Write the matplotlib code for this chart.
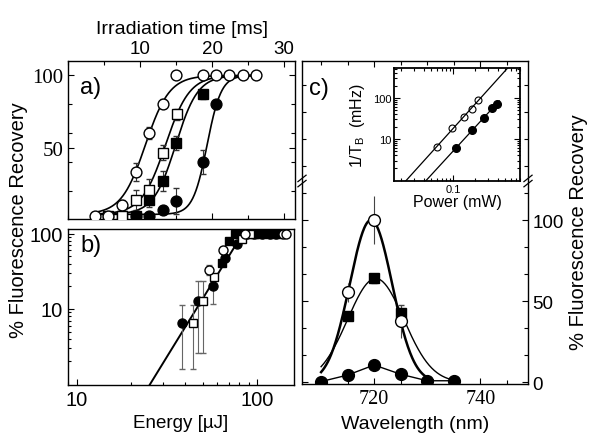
import numpy as np
import matplotlib
matplotlib.use("Agg")
import matplotlib.pyplot as plt
from matplotlib.ticker import MultipleLocator, FixedLocator, NullFormatter, LogLocator

plt.rcParams['font.family'] = ['Liberation Sans', 'DejaVu Sans']
plt.rcParams['mathtext.fontset'] = 'custom'
plt.rcParams['mathtext.rm'] = 'Liberation Sans'
plt.rcParams['axes.linewidth'] = 1.0

# ---- panel a: recovery vs irradiation time (ms) ----
a_t_oc = [3.75, 5.6, 7.45, 9.45, 11.3, 13.15, 15.0, 18.8, 20.6, 22.4, 24.3, 26.1]
a_v_oc = [2.5, 2.5, 10, 33, 60, 80.5, 100, 100, 100, 100, 100, 100]
a_e_oc = [0, 0, 4, 6, 4, 3, 0, 0, 0, 0, 0, 0]
a_t_os = [5.6, 7.45, 9.45, 11.3, 13.15, 15.1]
a_v_os = [2.5, 2.5, 13.7, 20.4, 46.5, 73]
a_e_os = [0, 0, 7, 8, 5, 4]
a_t_fs = [7.45, 9.45, 11.3, 13.15, 15.0, 18.8]
a_v_fs = [2.5, 2.5, 13.7, 26.9, 53, 87]
a_e_fs = [0, 0, 5, 7, 5, 3]
a_t_fc = [9.45, 11.3, 13.15, 15.0, 18.8, 20.6]
a_v_fc = [2.5, 2.5, 6.7, 13, 40, 80]
a_e_fc = [0, 0, 3, 9, 8, 3]
# sigmoid fits (midpoint, width) for the four series
a_fit_t0 = [10.74, 13.53, 14.94, 19.3]
a_fit_w = [1.67, 1.67, 1.54, 0.98]
a_fit_base = 3.7

# ---- panel b: recovery vs energy (uJ) ----
b_E_fc = [38.3, 47.4, 57.4, 66.7, 77.4, 88, 97, 107, 118, 128]
b_F_fc = [6.4, 12.9, 19.9, 47.4, 73.6, 100, 100, 100, 100, 100]
b_lo_fc = [1.6, 2.6, 11.5, 47.4, 73.6, 100, 100, 100, 100, 100]
b_hi_fc = [11.3, 23.4, 26, 47.4, 73.6, 100, 100, 100, 100, 100]
b_E_os = [44, 50.5, 58, 82.6, 92]
b_F_os = [6.4, 12.9, 26.3, 85.8, 100]
b_lo_os = [1.6, 2.6, 26.3, 85.8, 100]
b_hi_os = [11.3, 23.4, 26.3, 85.8, 100]
b_E_oc = [54.6, 65.2, 86, 139, 146]
b_F_oc = [33, 60, 100, 100, 100]
b_lo_oc = [28, 60, 100, 100, 100]
b_hi_oc = [38, 60, 100, 100, 100]
b_E_fs = [64, 70.5, 76, 80, 84, 96, 103, 112, 121, 132]
b_F_fs = [40.6, 81.5, 100, 100, 100, 100, 100, 100, 100, 100]
b_fit_E0 = 25.6
b_fit_n = 3.9

# ---- panel c: recovery vs wavelength (nm) ----
c_wl_fc = [710, 715, 720, 725, 730, 735]
c_v_fc = [0.5, 4.5, 10.7, 5, 1, 1]
c_wl_oc = [715, 720, 725]
c_v_oc = [55.4, 100, 37.6]
c_e_oc = [6, 15, 10]
c_wl_fs = [715, 720, 725]
c_v_fs = [41, 64, 42.7]
c_e_fs = [2, 3, 5]
# gaussian fits (amplitude, centre, sigma, start, end)
c_fit_oc = [100, 719.4, 4.0, 710, 731]
c_fit_fs = [64, 720.3, 5.3, 710, 735]

# ---- inset: 1/T_B vs power ----
in_p_oc = [0.061, 0.097, 0.141, 0.18, 0.216]
in_r_oc = [6.5, 18.3, 35, 55, 88]
in_p_fc = [0.11, 0.18, 0.26, 0.34, 0.39]
in_r_fc = [6.0, 16.4, 33.5, 57.7, 71]

W, H = 590, 439
fig = plt.figure(figsize=(5.9, 4.39), dpi=100)


def box(l, t, r, b):
    return [l / W, 1 - b / H, (r - l) / W, (b - t) / H]


tick_kw = dict(direction='in', which='both', width=0.8)

# panel a
ax_a = fig.add_axes(box(68, 62, 295, 220))
tt = np.linspace(3.4, 26, 300)
for t0, w in zip(a_fit_t0, a_fit_w):
    ax_a.plot(tt, a_fit_base + (100 - a_fit_base) / (1 + np.exp(-(tt - t0) / w)), color='black', lw=1.2, zorder=2)
ek = dict(fmt='none', ecolor='#333333', elinewidth=0.8, capsize=2, zorder=3)
ax_a.errorbar(a_t_oc, a_v_oc, yerr=a_e_oc, **ek)
ax_a.errorbar(a_t_os, a_v_os, yerr=a_e_os, **ek)
ax_a.errorbar(a_t_fs, a_v_fs, yerr=a_e_fs, **ek)
ax_a.errorbar(a_t_fc, a_v_fc, yerr=a_e_fc, **ek)
ax_a.plot(a_t_fc, a_v_fc, 'o', ms=7.8, mfc='black', mec='black', ls='none', zorder=4)
ax_a.plot(a_t_fs, a_v_fs, 's', ms=7, mfc='black', mec='black', ls='none', zorder=4)
ax_a.plot(a_t_os, a_v_os, 's', ms=7, mfc='white', mec='black', mew=1, ls='none', zorder=5)
ax_a.plot(a_t_oc, a_v_oc, 'o', ms=7.8, mfc='white', mec='black', mew=1, ls='none', zorder=5)
ax_a.set_xlim(0, 31.5)
ax_a.set_ylim(0.5, 110)
ax_a.xaxis.set_major_locator(FixedLocator([10, 20, 30]))
ax_a.xaxis.set_minor_locator(MultipleLocator(5))
ax_a.yaxis.set_major_locator(FixedLocator([50, 100]))
ax_a.yaxis.set_minor_locator(FixedLocator([20, 40, 60, 80]))
ax_a.tick_params(top=True, bottom=True, left=True, right=True, labeltop=True, labelbottom=False, **tick_kw)
ax_a.tick_params(which='major', length=4)
ax_a.tick_params(which='minor', length=3)
ax_a.tick_params(axis='x', labelsize=13.5, pad=3)
for lab in ax_a.get_yticklabels():
    lab.set_family('Liberation Serif')
    lab.set_fontsize(15)
ax_a.set_xlabel('Irradiation time [ms]', fontsize=14, labelpad=5)
ax_a.xaxis.set_label_position('top')

# panel b
ax_b = fig.add_axes(box(68, 230, 294, 386))
ax_b.set_xscale('log')
ax_b.set_yscale('log')
ee = np.linspace(24, b_fit_E0 * 100 ** (1 / b_fit_n), 100)
ax_b.plot(ee, (ee / b_fit_E0) ** b_fit_n, color='black', lw=1.4, zorder=2)
ek_b = dict(fmt='none', ecolor='#666666', elinewidth=0.8, capsize=2.5, zorder=3)
for E, F, lo, hi in [(b_E_fc, b_F_fc, b_lo_fc, b_hi_fc), (b_E_os, b_F_os, b_lo_os, b_hi_os),
                     (b_E_oc, b_F_oc, b_lo_oc, b_hi_oc)]:
    F = np.array(F)
    ax_b.errorbar(E, F, yerr=[F - np.array(lo), np.array(hi) - F], **ek_b)
ax_b.plot(b_E_fc, b_F_fc, 'o', ms=6.5, mfc='black', mec='black', ls='none', zorder=4)
ax_b.plot(b_E_fs, b_F_fs, 's', ms=6, mfc='black', mec='black', ls='none', zorder=4)
ax_b.plot(b_E_os, b_F_os, 's', ms=6, mfc='white', mec='black', mew=1, ls='none', zorder=5)
ax_b.plot(b_E_oc, b_F_oc, 'o', ms=6.5, mfc='white', mec='black', mew=1, ls='none', zorder=5)
ax_b.set_xlim(8.95, 161)
ax_b.set_ylim(0.97, 116)
ax_b.xaxis.set_major_locator(FixedLocator([10, 100]))
ax_b.xaxis.set_major_formatter(matplotlib.ticker.FixedFormatter(['10', '100']))
ax_b.xaxis.set_minor_locator(LogLocator(subs=np.arange(2, 10)))
ax_b.xaxis.set_minor_formatter(NullFormatter())
ax_b.yaxis.set_major_locator(FixedLocator([10, 100]))
ax_b.yaxis.set_major_formatter(matplotlib.ticker.FixedFormatter(['10', '100']))
ax_b.yaxis.set_minor_locator(LogLocator(subs=np.arange(2, 10)))
ax_b.yaxis.set_minor_formatter(NullFormatter())
ax_b.tick_params(top=False, right=False, labelsize=14.5, **tick_kw)
ax_b.tick_params(which='major', length=4)
ax_b.tick_params(which='minor', length=2.5)
ax_b.set_xlabel('Energy [µJ]', fontsize=13.5, labelpad=4)

# panel c
ax_c = fig.add_axes(box(302, 62, 528, 385))
wl = np.linspace(c_fit_fs[3], c_fit_fs[4], 200)
ax_c.plot(wl, c_fit_fs[0] * np.exp(-(wl - c_fit_fs[1]) ** 2 / (2 * c_fit_fs[2] ** 2)), color='black', lw=1.0, zorder=2)
wl = np.linspace(c_fit_oc[3], c_fit_oc[4], 200)
ax_c.plot(wl, c_fit_oc[0] * np.exp(-(wl - c_fit_oc[1]) ** 2 / (2 * c_fit_oc[2] ** 2)), color='black', lw=1.8, zorder=2)
ax_c.plot(c_wl_fc, c_v_fc, '-', color='black', lw=1.0, zorder=2)
ax_c.errorbar(c_wl_oc, c_v_oc, yerr=c_e_oc, fmt='none', ecolor='#444444', elinewidth=0.8, capsize=0, zorder=3)
ax_c.errorbar(c_wl_fs, c_v_fs, yerr=c_e_fs, fmt='none', ecolor='#444444', elinewidth=0.8, capsize=2, zorder=3)
ax_c.plot(c_wl_fc, c_v_fc, 'o', ms=8.5, mfc='black', mec='black', ls='none', zorder=4)
ax_c.plot(c_wl_fs, c_v_fs, 's', ms=7.5, mfc='black', mec='black', ls='none', zorder=4)
ax_c.plot(c_wl_oc, c_v_oc, 'o', ms=8.5, mfc='white', mec='black', mew=1, ls='none', zorder=5)
ax_c.set_xlim(706.4, 749)
ax_c.set_ylim(-1, 198)
ax_c.xaxis.set_major_locator(FixedLocator([720, 740]))
ax_c.xaxis.set_minor_locator(MultipleLocator(5))
ax_c.yaxis.set_major_locator(FixedLocator([0, 50, 100]))
ax_c.yaxis.set_minor_locator(MultipleLocator(50 / 3))
ax_c.tick_params(top=True, bottom=True, left=True, right=True, labelleft=False, labelright=True, **tick_kw)
ax_c.tick_params(which='major', length=4)
ax_c.tick_params(which='minor', length=3)
ax_c.tick_params(axis='y', labelsize=13.5, pad=3)
for lab in ax_c.get_xticklabels():
    lab.set_family('Liberation Serif')
    lab.set_fontsize(14.5)
ax_c.set_xlabel('Wavelength (nm)', fontsize=14, labelpad=5)
# axis break marks
yb = (385 - 182) / 323
for xs in (0, 1):
    for off in (-0.008, 0.008):
        ax_c.plot([xs - 0.018, xs + 0.018], [yb + off - 0.01, yb + off + 0.01], color='black', lw=0.9,
                  transform=ax_c.transAxes, clip_on=False, zorder=6)

# inset
ax_in = fig.add_axes(box(394, 69, 520, 182))
ax_in.set_xscale('log')
ax_in.set_yscale('log')
pp = np.array([0.016, 0.8])
k = np.polyfit(np.log10(in_p_oc), np.log10(in_r_oc), 1)
ax_in.plot(pp, 10 ** np.polyval(k, np.log10(pp)), color='black', lw=0.9)
pp = np.array([0.016, 0.42])
k = np.polyfit(np.log10(in_p_fc), np.log10(in_r_fc), 1)
ax_in.plot(pp, 10 ** np.polyval(k, np.log10(pp)), color='black', lw=0.9)
ax_in.plot(in_p_oc, in_r_oc, 'o', ms=5, mfc='none', mec='black', mew=0.8, ls='none')
ax_in.plot(in_p_fc, in_r_fc, 'o', ms=5.5, mfc='black', mec='black', ls='none')
ax_in.set_xlim(0.016, 0.8)
ax_in.set_ylim(0.95, 540)
ax_in.xaxis.set_major_locator(FixedLocator([0.1]))
ax_in.xaxis.set_major_formatter(matplotlib.ticker.FixedFormatter(['0.1']))
ax_in.xaxis.set_minor_locator(LogLocator(subs=np.arange(2, 10)))
ax_in.xaxis.set_minor_formatter(NullFormatter())
ax_in.yaxis.set_major_locator(FixedLocator([10, 100]))
ax_in.yaxis.set_major_formatter(matplotlib.ticker.FixedFormatter(['10', '100']))
ax_in.yaxis.set_minor_locator(LogLocator(subs=np.arange(2, 10)))
ax_in.yaxis.set_minor_formatter(NullFormatter())
ax_in.tick_params(top=True, right=True, labelsize=8, pad=2, **tick_kw)
ax_in.tick_params(which='major', length=4)
ax_in.tick_params(which='minor', length=2.5)
for s in ax_in.spines.values():
    s.set_linewidth(1.3)
ax_in.set_xlabel('Power (mW)', fontsize=11.5, labelpad=0)
ax_in.set_ylabel('1/T$_\\mathregular{B}$  (mHz)', fontsize=11.5, labelpad=4)

# panel letters and shared labels
fig.text(91 / W, 1 - 88 / H, 'a)', fontsize=17, ha='center', va='center')
fig.text(91 / W, 1 - 246 / H, 'b)', fontsize=17, ha='center', va='center')
fig.text(319 / W, 1 - 89 / H, 'c)', fontsize=17, ha='center', va='center')
fig.text(19 / W, 1 - 220 / H, '% Fluorescence Recovery', rotation=90, fontsize=14.5, ha='center', va='center')
fig.text(578 / W, 1 - 232 / H, '% Fluorescence Recovery', rotation=90, fontsize=14.5, ha='center', va='center')

fig.savefig('out.png', dpi=100)
